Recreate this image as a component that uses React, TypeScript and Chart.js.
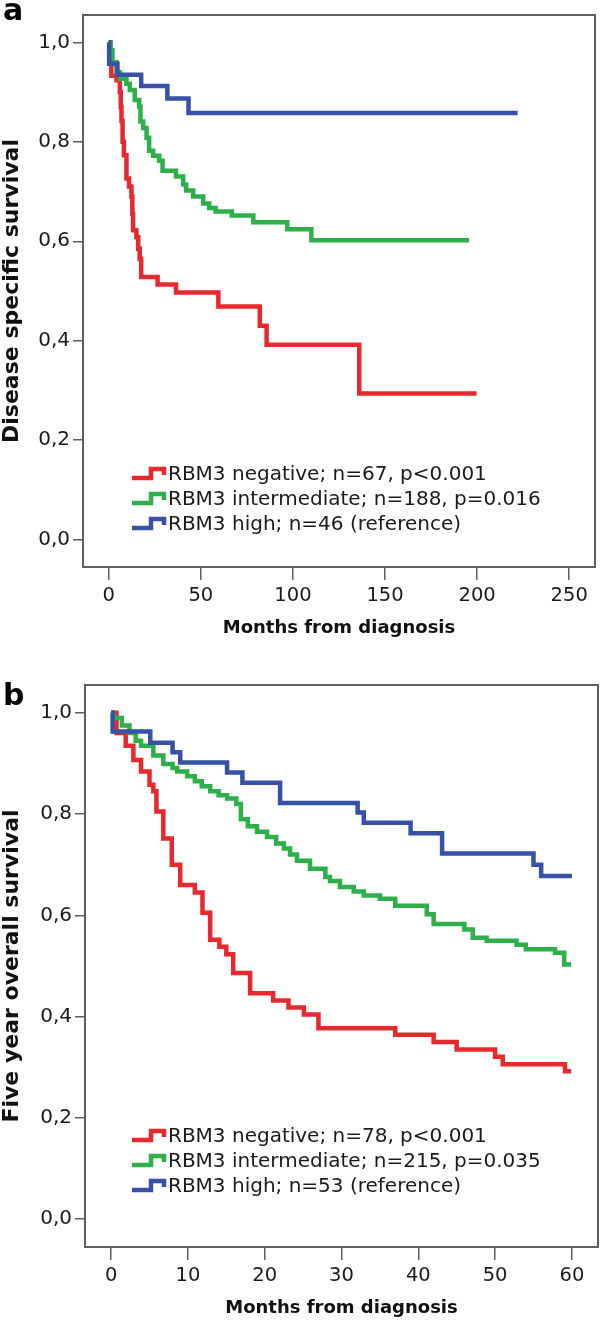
import React, { useEffect, useRef } from 'react';
import { Chart, registerables } from 'chart.js';

Chart.register(...registerables);

const FONT = '"DejaVu Sans", "Noto Sans", sans-serif';

// ---------- Shared ticks ----------
const survivalTicks = [0, 0.2, 0.4, 0.6, 0.8, 1.0];

// ---------- Panel a: disease specific survival ----------
const aMonthsTicks = [0, 50, 100, 150, 200, 250];
const aLabels = [
  'RBM3 negative; n=67, p<0.001',
  'RBM3 intermediate; n=188, p=0.016',
  'RBM3 high; n=46 (reference)',
];
const aNegTime = [0, 0.8, 1.4, 4.2, 6.0, 6.5, 6.9, 7.5, 8.2, 9.6, 11.0, 12.3, 12.8, 13.2, 15.0, 16.0, 16.8, 17.6, 26.5, 36.5, 59.5, 82.0, 85.7, 136.0, 199.7];
const aNegSurv = [1.0, 0.97, 0.933, 0.924, 0.9, 0.87, 0.842, 0.8, 0.773, 0.726, 0.71, 0.69, 0.655, 0.622, 0.608, 0.585, 0.565, 0.528, 0.513, 0.497, 0.469, 0.43, 0.392, 0.294, 0.294];
const aIntTime = [0, 1.0, 2.0, 4.2, 6.0, 9.6, 11.4, 14.1, 16.5, 17.2, 18.7, 20.5, 21.9, 24.1, 27.4, 29.2, 36.5, 40.4, 42.0, 45.8, 51.3, 54.5, 58.0, 66.8, 78.5, 96.9, 110.0, 195.6];
const aIntSurv = [1.0, 0.984, 0.96, 0.94, 0.927, 0.917, 0.904, 0.884, 0.871, 0.841, 0.828, 0.808, 0.782, 0.772, 0.762, 0.742, 0.73, 0.714, 0.702, 0.69, 0.676, 0.667, 0.66, 0.652, 0.638, 0.624, 0.602, 0.602];
const aHighTime = [0, 0.2, 4.7, 17.6, 31.8, 43.3, 222.0];
const aHighSurv = [1.0, 0.957, 0.935, 0.912, 0.887, 0.858, 0.858];

// ---------- Panel b: five year overall survival ----------
const bMonthsTicks = [0, 10, 20, 30, 40, 50, 60];
const bLabels = [
  'RBM3 negative; n=78, p<0.001',
  'RBM3 intermediate; n=215, p=0.035',
  'RBM3 high; n=53 (reference)',
];
const bNegTime = [0, 0.7, 1.9, 2.9, 3.9, 5.0, 5.5, 5.9, 6.8, 7.9, 9.0, 10.9, 11.9, 12.9, 14.1, 15.0, 15.9, 18.1, 21.1, 23.1, 25.1, 27.0, 37.0, 42.0, 45.0, 50.0, 51.0, 59.1, 59.9];
const bNegSurv = [1.0, 0.96, 0.935, 0.907, 0.884, 0.858, 0.845, 0.805, 0.752, 0.7, 0.66, 0.645, 0.605, 0.552, 0.538, 0.523, 0.486, 0.446, 0.432, 0.418, 0.404, 0.377, 0.364, 0.35, 0.335, 0.321, 0.306, 0.292, 0.292];
const bIntTime = [0, 0.3, 1.4, 2.4, 3.2, 3.9, 5.5, 6.8, 8.0, 8.6, 9.9, 10.9, 11.8, 12.9, 14.0, 15.1, 16.3, 16.9, 17.8, 19.0, 20.3, 21.5, 22.5, 23.3, 24.2, 25.9, 27.9, 28.5, 29.8, 31.6, 32.9, 35.0, 37.0, 41.1, 42.0, 46.0, 47.1, 48.9, 52.8, 54.0, 57.8, 59.0, 59.9];
const bIntSurv = [1.0, 0.99, 0.975, 0.96, 0.945, 0.935, 0.916, 0.899, 0.891, 0.884, 0.875, 0.865, 0.855, 0.845, 0.837, 0.831, 0.82, 0.79, 0.776, 0.765, 0.755, 0.742, 0.732, 0.72, 0.708, 0.692, 0.676, 0.668, 0.656, 0.647, 0.639, 0.633, 0.619, 0.602, 0.583, 0.572, 0.556, 0.55, 0.542, 0.533, 0.526, 0.503, 0.503];
const bHighTime = [0, 0.2, 5.1, 8.0, 9.0, 15.1, 17.1, 22.0, 32.1, 32.9, 39.0, 43.1, 55.0, 56.0, 60.0];
const bHighSurv = [1.0, 0.963, 0.941, 0.922, 0.902, 0.882, 0.862, 0.822, 0.803, 0.783, 0.762, 0.722, 0.7, 0.678, 0.678];

const RED = '#E8282F';
const GREEN = '#2DB04A';
const BLUE = '#3651A6';

const pts = (t: number[], s: number[]) => t.map((x, i) => ({ x, y: s[i] }));

const decorPlugin = {
  id: 'decor',
  afterDatasetsDraw(chart: any, _args: any, opts: any) {
    const { ctx, chartArea: ca } = chart;
    ctx.save();
    ctx.strokeStyle = '#5f5f5f';
    ctx.lineWidth = 2;
    ctx.strokeRect(ca.left, ca.top, ca.right - ca.left, ca.bottom - ca.top);
    ctx.font = `20px ${FONT}`;
    ctx.textBaseline = 'middle';
    ctx.textAlign = 'left';
    chart.data.datasets.forEach((ds: any, i: number) => {
      const x0 = ca.left + opts.legendX;
      const yc = ca.top + opts.legendY + i * opts.rowH;
      ctx.strokeStyle = ds.borderColor;
      ctx.lineWidth = 4.5;
      ctx.lineJoin = 'miter';
      ctx.lineCap = 'butt';
      ctx.beginPath();
      ctx.moveTo(x0, yc + 3);
      ctx.lineTo(x0 + 19, yc + 3);
      ctx.lineTo(x0 + 19, yc - 6);
      ctx.lineTo(x0 + 32, yc - 6);
      ctx.lineTo(x0 + 32, yc);
      ctx.stroke();
      ctx.fillStyle = '#1a1a1a';
      ctx.fillText(ds.label, x0 + 36, yc);
    });
    ctx.font = `bold 30px ${FONT}`;
    ctx.textBaseline = 'alphabetic';
    ctx.fillStyle = '#000';
    ctx.fillText(opts.panel, opts.panelX, opts.panelY);
    ctx.restore();
  },
};

type PanelCfg = {
  height: number;
  padTop: number;
  padRight: number;
  yAxisW: number;
  xAxisH: number;
  xMin: number;
  xMax: number;
  xTicks: number[];
  xTitlePad: number;
  yTitle: string;
  labels: string[];
  series: { t: number[]; s: number[] }[];
  legendX: number;
  legendY: number;
  panel: string;
  panelY: number;
};

function KMChart({ cfg }: { cfg: PanelCfg }) {
  const ref = useRef<HTMLCanvasElement | null>(null);
  useEffect(() => {
    if (!ref.current) return;
    const colors = [RED, GREEN, BLUE];
    const chart = new Chart(ref.current, {
      type: 'line',
      data: {
        datasets: cfg.series.map((sr, i) => ({
          label: cfg.labels[i],
          data: pts(sr.t, sr.s),
          borderColor: colors[i],
          backgroundColor: colors[i],
          borderWidth: 4.5,
          pointRadius: 0,
          stepped: 'before' as const,
          tension: 0,
          fill: false,
          borderJoinStyle: 'miter' as const,
          borderCapStyle: 'butt' as const,
          order: 2 - i,
        })),
      },
      options: {
        animation: false,
        responsive: false,
        maintainAspectRatio: false,
        events: [],
        layout: { padding: { top: cfg.padTop, right: cfg.padRight, left: 0, bottom: 0 } },
        plugins: {
          legend: { display: false },
          tooltip: { enabled: false },
          // @ts-ignore
          decor: { legendX: cfg.legendX, legendY: cfg.legendY, rowH: 25, panel: cfg.panel, panelX: 3, panelY: cfg.panelY },
        },
        scales: {
          x: {
            type: 'linear',
            min: cfg.xMin,
            max: cfg.xMax,
            bounds: 'data',
            afterBuildTicks: (s: any) => {
              s.ticks = cfg.xTicks.map((v) => ({ value: v }));
            },
            afterFit: (s: any) => {
              s.height = cfg.xAxisH;
            },
            grid: { display: true, drawOnChartArea: false, drawTicks: true, tickLength: 13, color: '#5f5f5f', lineWidth: 1.5 },
            border: { display: false },
            ticks: {
              font: { family: FONT, size: 19.5 },
              color: '#1a1a1a',
              padding: 4,
              maxRotation: 0,
              autoSkip: false,
              callback: (v: any) => String(v),
            },
            title: {
              display: true,
              text: 'Months from diagnosis',
              font: { family: FONT, size: 18, weight: 'bold', lineHeight: 1 },
              color: '#111',
              padding: { top: 0, bottom: cfg.xTitlePad },
            },
          },
          y: {
            type: 'linear',
            min: -0.055,
            max: 1.055,
            bounds: 'data',
            afterBuildTicks: (s: any) => {
              s.ticks = survivalTicks.map((v) => ({ value: v }));
            },
            afterFit: (s: any) => {
              s.width = cfg.yAxisW;
            },
            grid: { display: true, drawOnChartArea: false, drawTicks: true, tickLength: 10, color: '#5f5f5f', lineWidth: 1.5 },
            border: { display: false },
            ticks: {
              font: { family: FONT, size: 20 },
              color: '#1a1a1a',
              padding: 3,
              autoSkip: false,
              callback: (v: any) => Number(v).toFixed(1).replace('.', ','),
            },
            title: {
              display: true,
              text: cfg.yTitle,
              font: { family: FONT, size: 22, weight: 'bold', lineHeight: 1 },
              color: '#111',
              padding: { top: 1, bottom: 0 },
            },
          },
        },
      },
      plugins: [decorPlugin],
    } as any);
    return () => chart.destroy();
  }, [cfg]);
  return <canvas ref={ref} width={600} height={cfg.height} style={{ display: 'block', width: 600, height: cfg.height }} />;
}

const panelA: PanelCfg = {
  height: 660,
  padTop: 5,
  padRight: 5,
  yAxisW: 83,
  xAxisH: 93,
  xMin: -14,
  xMax: 264,
  xTicks: aMonthsTicks,
  xTitlePad: 23,
  yTitle: 'Disease specific survival',
  labels: aLabels,
  series: [
    { t: aNegTime, s: aNegSurv },
    { t: aIntTime, s: aIntSurv },
    { t: aHighTime, s: aHighSurv },
  ],
  legendX: 49,
  legendY: 460,
  panel: 'a',
  panelY: 20,
};

const panelB: PanelCfg = {
  height: 660,
  padTop: 25,
  padRight: 2,
  yAxisW: 85,
  xAxisH: 73,
  xMin: -3.4,
  xMax: 63.4,
  xTicks: bMonthsTicks,
  xTitlePad: 3,
  yTitle: 'Five year overall survival',
  labels: bLabels,
  series: [
    { t: bNegTime, s: bNegSurv },
    { t: bIntTime, s: bIntSurv },
    { t: bHighTime, s: bHighSurv },
  ],
  legendX: 47,
  legendY: 452,
  panel: 'b',
  panelY: 45,
};

export default function App() {
  return (
    <div style={{ position: 'absolute', left: 0, top: 0, width: 600, height: 1320, background: '#fff' }}>
      <KMChart cfg={panelA} />
      <KMChart cfg={panelB} />
    </div>
  );
}
